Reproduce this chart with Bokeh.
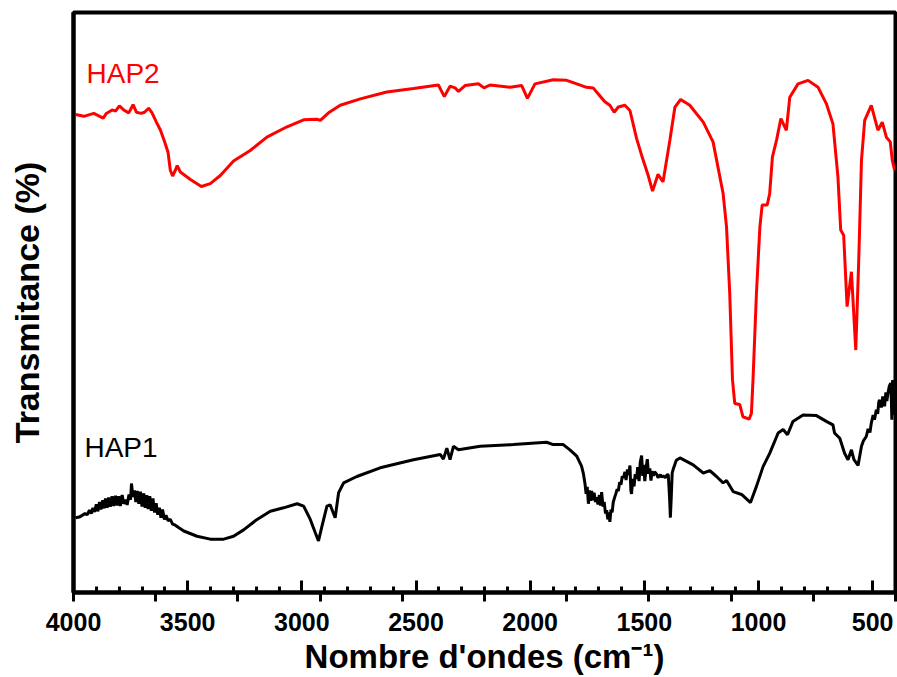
from bokeh.plotting import figure
from bokeh.models import Range1d, FixedTicker, LinearAxis
from bokeh.core.properties import value
from bokeh.embed import file_html
from bokeh.resources import INLINE

# ---------------- data ----------------
hap2_wn = [3991, 3955, 3911, 3870, 3856, 3831, 3816, 3799, 3780, 3758, 3739, 3724, 3704, 3689,
           3671, 3656, 3637, 3619, 3601, 3586, 3576, 3566, 3554, 3546, 3532, 3488, 3440, 3401,
           3357, 3299, 3226, 3153, 3065, 2992, 2934, 2919, 2883, 2832, 2744, 2628, 2511, 2402,
           2376, 2351, 2329, 2314, 2285, 2227, 2202, 2176, 2088, 2037, 2012, 1979, 1899, 1840,
           1796, 1753, 1724, 1709, 1673, 1651, 1632, 1614, 1585, 1563, 1534, 1512, 1483, 1464,
           1440, 1418, 1388, 1366, 1341, 1301, 1242, 1199, 1155, 1140, 1126, 1114, 1104, 1082,
           1068, 1041, 1031, 1024, 1009, 994, 984, 962, 951, 939, 921, 902, 878, 863, 827, 783,
           739, 703, 674, 652, 640, 627, 612, 593, 574, 561, 549, 535, 506, 477, 458, 440, 423,
           414, 404]
hap2_t = [82.4, 82.1, 82.6, 81.8, 82.6, 83.2, 83.0, 83.9, 83.2, 82.7, 84.1, 82.8, 82.6, 82.8,
          83.5, 82.7, 81.1, 79.7, 77.7, 75.9, 72.8, 71.8, 72.8, 73.6, 72.5, 71.2, 70.0, 70.5,
          71.9, 74.4, 76.2, 78.5, 80.3, 81.5, 81.6, 81.4, 82.7, 84.0, 85.1, 86.3, 86.9, 87.5,
          85.5, 87.3, 87.0, 86.4, 87.4, 87.7, 87.0, 87.5, 87.1, 87.4, 85.2, 87.7, 88.4, 88.3,
          87.7, 87.1, 87.0, 86.3, 84.6, 84.0, 82.8, 83.7, 84.0, 83.1, 78.3, 75.4, 71.9, 69.2,
          72.1, 70.8, 78.0, 83.7, 85.0, 84.0, 81.1, 77.7, 68.8, 63.0, 51.6, 36.7, 32.6, 32.4,
          30.3, 29.9, 30.9, 36.7, 51.6, 63.0, 66.8, 66.8, 68.8, 75.1, 78.0, 81.7, 79.7, 85.4,
          87.7, 88.3, 87.1, 84.3, 80.8, 71.6, 62.5, 61.6, 49.3, 55.3, 41.8, 57.3, 74.5, 81.4,
          84.0, 79.7, 81.1, 78.5, 77.7, 74.5, 72.8]

hap1_wn = [3991, 3975, 3962, 3950, 3940, 3930, 3922, 3915, 3908, 3900, 3893, 3886, 3880, 3872,
           3866, 3860, 3853, 3846, 3839, 3831, 3824, 3816, 3809, 3802, 3795, 3787, 3780, 3772,
           3765, 3757, 3750, 3746, 3740, 3733, 3727, 3721, 3714, 3707, 3700, 3692, 3686, 3679,
           3673, 3666, 3659, 3652, 3645, 3638, 3631, 3624, 3617, 3610, 3602, 3595, 3586, 3576,
           3566, 3554, 3540, 3517, 3459, 3401, 3342, 3299, 3255, 3196, 3138, 3080, 3021, 2992,
           2963, 2941, 2927, 2912, 2890, 2876, 2854, 2839, 2817, 2759, 2657, 2511, 2394, 2380,
           2365, 2351, 2336, 2314, 2219, 2074, 1928, 1899, 1855, 1826,
           1796, 1785, 1775, 1767, 1760, 1755, 1750, 1745, 1740, 1735, 1731, 1725, 1720, 1714,
           1709, 1703, 1697, 1692, 1687, 1681, 1676, 1670, 1665, 1660, 1655, 1651, 1646, 1641,
           1636, 1630, 1625, 1619, 1614, 1608, 1602, 1597, 1591, 1585, 1580, 1574, 1568, 1563,
           1559, 1556, 1551, 1545, 1540, 1534, 1529, 1523, 1518, 1512, 1507, 1502, 1498, 1492,
           1487, 1482, 1476, 1471, 1466, 1460, 1455, 1446, 1440, 1430, 1425, 1417, 1408, 1400,
           1395, 1389, 1386, 1382, 1378, 1374, 1360, 1344,
           1286, 1242, 1213, 1184, 1155, 1140, 1111, 1074, 1035, 1009, 980, 951, 914, 892, 873,
           849, 805, 746, 703, 674, 667, 644, 623, 608, 593, 582, 564,
           549, 540, 528, 520, 512, 506, 498, 492, 484, 478, 473, 469, 462, 456, 448, 442, 438,
           433, 427, 421, 418, 416, 413, 411, 408, 406, 404]
hap1_t = [12.9, 13.0, 13.3, 13.6, 13.4, 14.2, 13.6, 14.6, 13.9, 15.2, 14.0, 15.6, 14.3, 15.9,
          14.5, 16.2, 14.6, 16.4, 14.8, 16.6, 14.9, 16.7, 15.0, 16.6, 14.9, 16.8, 15.3, 16.0,
          15.1, 16.9, 16.0, 18.8, 16.5, 17.6, 15.6, 17.5, 15.3, 17.4, 14.8, 17.1, 14.6, 16.8,
          14.4, 16.6, 14.1, 16.2, 13.8, 15.4, 13.4, 14.6, 12.9, 14.3, 12.6, 13.3, 12.4, 12.6,
          11.8, 11.6, 11.2, 10.6, 9.7, 9.2, 9.2, 9.7, 10.8, 12.6, 14.0, 14.6, 15.3, 14.9,
          12.6, 10.3, 8.9, 11.4, 14.9, 15.1, 12.9, 17.2, 18.9, 20.0, 21.5, 22.9, 23.8, 23.0,
          24.9, 22.9, 25.2, 24.6, 25.2, 25.5, 25.9, 25.5, 25.5, 24.6,
          23.5, 22.6, 21.8, 20.5, 18.8, 17.0, 18.2, 15.3, 17.6, 15.8, 17.5, 15.9, 17.2, 15.6,
          16.4, 15.2, 16.8, 15.0, 17.3, 14.8, 15.6, 13.6, 14.2, 12.6, 13.8, 12.2, 14.3, 13.8,
          15.6, 16.4, 17.0, 17.8, 17.5, 19.0, 18.6, 20.0, 19.8, 20.8, 19.4, 21.2, 20.3, 21.9,
          17.6, 17.0, 19.6, 18.3, 20.4, 19.6, 21.6, 19.2, 22.4, 23.6, 20.1, 22.0, 19.2, 21.5,
          23.0, 20.5, 21.4, 19.3, 20.9, 20.1, 20.8, 20.4, 19.8, 20.3, 19.9, 20.1, 19.8, 20.3,
          20.3, 16.0, 12.9, 16.5, 20.6, 21.2, 22.8, 23.2,
          22.0, 20.6, 21.0, 20.0, 18.9, 19.3, 17.4, 16.9, 15.5, 18.3, 21.7, 24.0, 27.5, 28.1, 27.2,
          29.5, 30.6, 30.5, 29.5, 28.9, 27.5, 26.6, 24.0, 22.9, 24.6, 22.9, 21.9,
          25.2, 26.2, 26.9, 28.2, 27.6, 29.2, 30.6, 29.8, 31.5, 30.8, 32.9, 33.2, 31.9, 33.8,
          32.1, 34.5, 33.0, 34.4, 35.6, 36.1, 33.0, 29.8, 36.6, 36.4, 31.5, 35.8, 30.6]

series_names = ["HAP2", "HAP1"]
label_wn = [3943, 3952]
label_t = [89.5, 25.0]

major_ticks = [4000, 3500, 3000, 2500, 2000, 1500, 1000, 500]
minor_ticks = list(range(4000, 399, -100))
outer_ticks = [4000, 3640, 3280, 2920, 2560, 2200, 1840, 1480, 1120, 760, 400]

FONT = "Liberation Sans"

p = figure(width=897, height=677, output_backend="svg", toolbar_location=None,
           x_range=Range1d(4000, 400), y_range=Range1d(0, 100),
           x_axis_location=None, min_border_left=73, min_border_right=2,
           min_border_top=12, min_border_bottom=84)
p.grid.visible = False
p.outline_line_color = "black"
p.outline_line_width = 4
p.background_fill_color = "white"
p.border_fill_color = "white"

# y axis: line and title only
ya = p.yaxis[0]
ya.axis_line_width = 4
ya.major_tick_line_color = None
ya.minor_tick_line_color = None
ya.major_label_text_color = None
ya.major_label_standoff = 0
ya.axis_label = "Transmitance (%)"
ya.axis_label_text_font = FONT
ya.axis_label_text_font_style = "bold"
ya.axis_label_text_font_size = "34px"
ya.axis_label_text_color = "black"
ya.axis_label_standoff = 22

# x axis 1: axis line with inward ticks
ax_in = LinearAxis(ticker=FixedTicker(ticks=major_ticks, minor_ticks=minor_ticks))
ax_in.axis_line_width = 4
ax_in.major_tick_in = 12
ax_in.major_tick_out = 0
ax_in.major_tick_line_width = 3
ax_in.minor_tick_in = 6
ax_in.minor_tick_out = 0
ax_in.minor_tick_line_width = 3
ax_in.major_label_text_color = None
ax_in.major_label_standoff = 0
p.add_layout(ax_in, "below")

# x axis 2: outward ticks
ax_out = LinearAxis(ticker=FixedTicker(ticks=outer_ticks, minor_ticks=[]))
ax_out.axis_line_color = None
ax_out.major_tick_in = 0
ax_out.major_tick_out = 9
ax_out.major_tick_line_width = 3
ax_out.minor_tick_line_color = None
ax_out.major_label_text_color = None
ax_out.major_label_standoff = 0
p.add_layout(ax_out, "below")

# x axis 3: labels and title
ax_lab = LinearAxis(ticker=FixedTicker(ticks=major_ticks, minor_ticks=[]))
ax_lab.axis_line_color = None
ax_lab.major_tick_line_color = None
ax_lab.minor_tick_line_color = None
ax_lab.major_label_text_font = FONT
ax_lab.major_label_text_font_style = "bold"
ax_lab.major_label_text_font_size = "25px"
ax_lab.major_label_text_color = "black"
ax_lab.major_label_standoff = 5
ax_lab.axis_label = "Nombre d'ondes (cm\u207b\u00b9)"
ax_lab.axis_label_text_font = FONT
ax_lab.axis_label_text_font_style = "bold"
ax_lab.axis_label_text_font_size = "33px"
ax_lab.axis_label_text_color = "black"
ax_lab.axis_label_standoff = 4
p.add_layout(ax_lab, "below")

p.line(hap2_wn, hap2_t, line_color="#ff0000", line_width=3)
p.line(hap1_wn, hap1_t, line_color="black", line_width=3)

p.text(x=[label_wn[0]], y=[label_t[0]], text=[series_names[0]], text_color="#ff0000",
       text_font=value(FONT), text_font_size="28px", text_baseline="middle", text_align="left")
p.text(x=[label_wn[1]], y=[label_t[1]], text=[series_names[1]], text_color="black",
       text_font=value(FONT), text_font_size="28px", text_baseline="middle", text_align="left")

open("out.html", "w").write(file_html(p, INLINE))
